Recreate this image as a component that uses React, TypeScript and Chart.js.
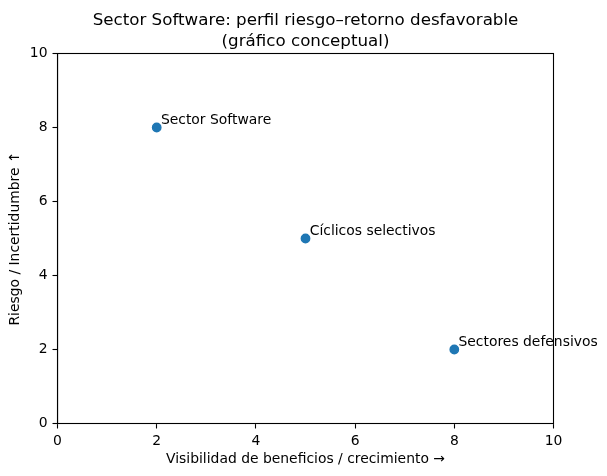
import React, { useEffect, useRef } from "react";
import { Chart, registerables } from "chart.js";

Chart.register(...registerables);

const categories: string[] = ["Sector Software", "Cíclicos selectivos", "Sectores defensivos"];
const visibilityValues: number[] = [2, 5, 8];
const riskValues: number[] = [8, 5, 2];
const tickValues: number[] = [0, 2, 4, 6, 8, 10];
const titleLines: string[] = ["Sector Software: perfil riesgo–retorno desfavorable", "(gráfico conceptual)"];
const xAxisTitle = "Visibilidad de beneficios / crecimiento →";
const yAxisTitle = "Riesgo / Incertidumbre ↑";

const FONT = "'DejaVu Sans', sans-serif";

export default function App() {
  const ref = useRef<HTMLCanvasElement | null>(null);

  useEffect(() => {
    document.body.style.margin = "0";
    const canvas = ref.current;
    if (!canvas) return;

    const overlay = {
      id: "overlay",
      afterDraw(chart: any) {
        const { ctx, chartArea } = chart;
        ctx.save();
        // full frame
        ctx.strokeStyle = "#000";
        ctx.lineWidth = 1.1;
        ctx.strokeRect(chartArea.left, chartArea.top, chartArea.right - chartArea.left, chartArea.bottom - chartArea.top);
        // title
        ctx.fillStyle = "#000";
        ctx.font = `16.7px ${FONT}`;
        ctx.textAlign = "center";
        ctx.textBaseline = "alphabetic";
        const cx = (chartArea.left + chartArea.right) / 2;
        ctx.fillText(titleLines[0], cx, 25);
        ctx.fillText(titleLines[1], cx, 45.5);
        // point labels
        ctx.font = `13.9px ${FONT}`;
        ctx.textAlign = "left";
        const xs = chart.scales.x;
        const ys = chart.scales.y;
        categories.forEach((c, i) => {
          const px = xs.getPixelForValue(visibilityValues[i]);
          const py = ys.getPixelForValue(riskValues[i]);
          ctx.fillText(c, px + 4.2, py - 3.5);
        });
        ctx.restore();
      },
    };

    const chart = new Chart(canvas, {
      type: "scatter",
      data: {
        datasets: [
          {
            label: "Sectores",
            data: visibilityValues.map((v, i) => ({ x: v, y: riskValues[i] })),
            backgroundColor: "#1f77b4",
            borderColor: "#1f77b4",
            borderWidth: 1.4,
            pointRadius: 4.2,
            pointHoverRadius: 4.2,
          },
        ],
      },
      options: {
        responsive: false,
        animation: false,
        events: [],
        layout: { padding: { top: 53.5, right: 53.5, left: 0, bottom: 0 } },
        plugins: {
          legend: { display: false },
          title: { display: false },
          tooltip: { enabled: false },
        },
        scales: {
          x: {
            type: "linear",
            min: 0,
            max: 10,
            afterFit: (s: any) => {
              s.height = 52.5;
            },
            afterBuildTicks: (s: any) => {
              s.ticks = tickValues.map((v) => ({ value: v }));
            },
            ticks: {
              stepSize: 2,
              color: "#000",
              font: { family: FONT, size: 13.9 },
              padding: 5,
              maxRotation: 0,
              autoSkip: false,
            },
            grid: {
              display: true,
              drawOnChartArea: false,
              drawTicks: true,
              tickLength: 5,
              tickColor: "#000",
              tickWidth: 1.1,
            },
            border: { display: true, color: "#000", width: 1.1 },
            title: {
              display: true,
              text: xAxisTitle,
              color: "#000",
              font: { family: FONT, size: 13.9 },
              padding: { top: 0, bottom: 8.5 },
            },
          },
          y: {
            type: "linear",
            min: 0,
            max: 10,
            afterFit: (s: any) => {
              s.width = 57.5;
            },
            afterBuildTicks: (s: any) => {
              s.ticks = tickValues.map((v) => ({ value: v }));
            },
            ticks: {
              stepSize: 2,
              color: "#000",
              font: { family: FONT, size: 13.9 },
              padding: 5,
              autoSkip: false,
            },
            grid: {
              display: true,
              drawOnChartArea: false,
              drawTicks: true,
              tickLength: 5,
              tickColor: "#000",
              tickWidth: 1.1,
            },
            border: { display: true, color: "#000", width: 1.1 },
            title: {
              display: true,
              text: yAxisTitle,
              color: "#000",
              font: { family: FONT, size: 13.9 },
              padding: { top: 7.5, bottom: 0 },
            },
          },
        },
      },
      plugins: [overlay],
    });

    return () => chart.destroy();
  }, []);

  return (
    <div style={{ position: "absolute", left: 0, top: 0, width: 607, height: 476, background: "#fff" }}>
      <canvas ref={ref} width={607} height={476} style={{ display: "block", width: 607, height: 476 }} />
    </div>
  );
}
